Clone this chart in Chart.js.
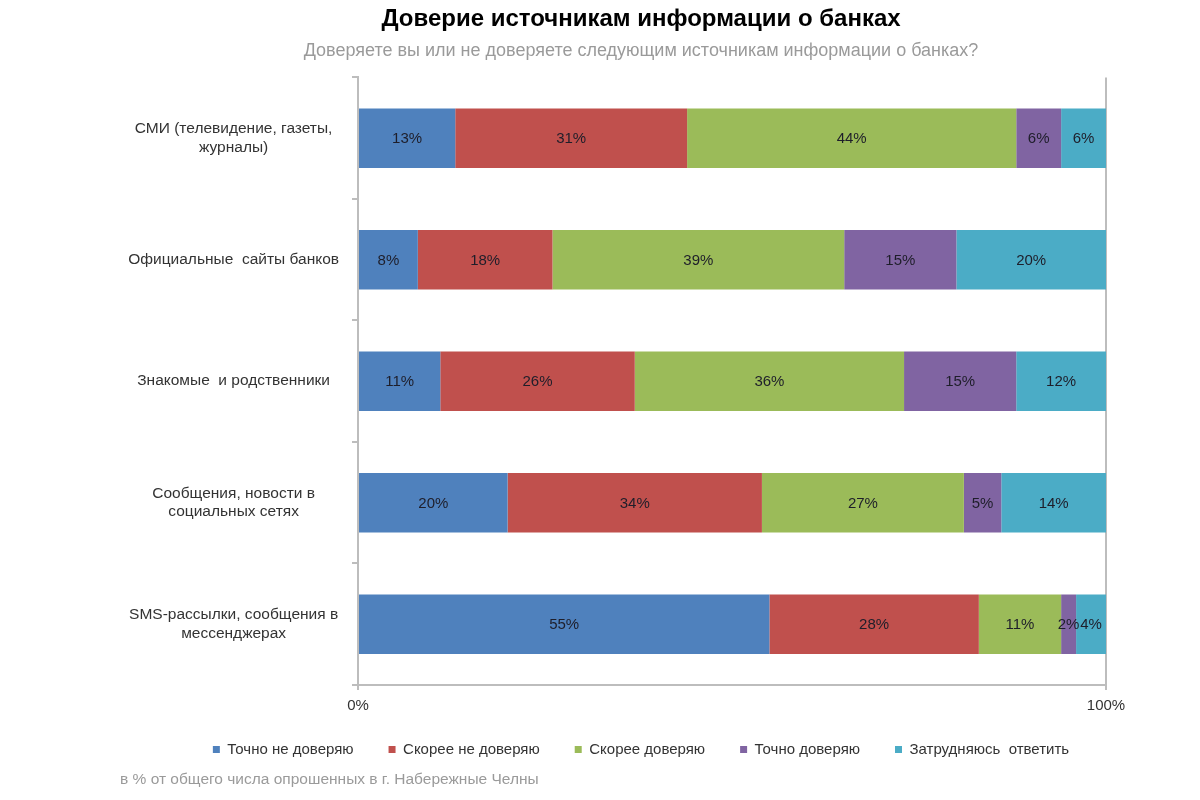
<!DOCTYPE html>
<html>
<head>
<meta charset="utf-8">
<script src="https://cdn.jsdelivr.net/npm/chart.js@4/dist/chart.umd.min.js"></script>
<style>
  html, body { margin: 0; padding: 0; background: #ffffff; }
  #wrap { position: relative; width: 1200px; height: 800px; }
  #note { position: absolute; left: 120px; top: 770px; font: 15.5px "Liberation Sans", Arial, sans-serif; color: #9a9a9a; white-space: nowrap; }
</style>
</head>
<body>
<div id="wrap">
  <canvas id="c" width="1200" height="800"></canvas>
  <div id="note">в % от общего числа опрошенных в г. Набережные Челны</div>
</div>
<script>
const titleText = "Доверие источникам информации о банках";
const subtitleText = "Доверяете вы или не доверяете следующим источникам информации о банках?";
const categories = [
  ["СМИ (телевидение, газеты,", "журналы)"],
  "Официальные  сайты банков",
  "Знакомые  и родственники",
  ["Сообщения, новости в", "социальных сетях"],
  ["SMS-рассылки, сообщения в", "мессенджерах"]
];
const seriesNames = ["Точно не доверяю", "Скорее не доверяю", "Скорее доверяю", "Точно доверяю", "Затрудняюсь  ответить"];
const definitelyNot = [13, 8, 11, 20, 55];
const ratherNot = [31, 18, 26, 34, 28];
const ratherYes = [44, 39, 36, 27, 11];
const definitelyYes = [6, 15, 15, 5, 2];
const hardToSay = [6, 20, 12, 14, 4];
const xTickValues = [0, 100];
const colors = ["#4F81BD", "#C0504D", "#9BBB59", "#8064A2", "#4BACC6"];

const seriesValues = [definitelyNot, ratherNot, ratherYes, definitelyYes, hardToSay];
const FONT = '"Liberation Sans", Arial, sans-serif';

const barLabels = {
  id: 'barLabels',
  afterDatasetsDraw(chart) {
    const ctx = chart.ctx;
    ctx.save();
    ctx.font = '15px ' + FONT;
    ctx.fillStyle = '#1e1e2a';
    ctx.textAlign = 'center';
    ctx.textBaseline = 'middle';
    chart.data.datasets.forEach((ds, di) => {
      const meta = chart.getDatasetMeta(di);
      meta.data.forEach((bar, i) => {
        const v = ds.data[i];
        const cx = (bar.x + bar.base) / 2;
        ctx.fillText(v + '%', cx, bar.y + 1);
      });
    });
    ctx.restore();
  }
};

// let the axis labels extend beyond the axis boxes (avoid label clipping)
const unclipLabels = {
  id: 'unclipLabels',
  afterLayout(chart) {
    chart.scales.y.left = 0;
    chart.scales.x.bottom = chart.height;
  }
};

new Chart(document.getElementById('c'), {
  type: 'bar',
  data: {
    labels: categories,
    datasets: seriesNames.map((n, k) => ({
      label: n,
      data: seriesValues[k],
      backgroundColor: colors[k],
      borderWidth: 0,
      categoryPercentage: 1,
      barPercentage: 0.49
    }))
  },
  options: {
    indexAxis: 'y',
    responsive: false,
    animation: false,
    layout: { padding: { left: 176, right: 94, top: 0, bottom: 33 } },
    scales: {
      x: {
        stacked: true,
        min: 0, max: 100,
        afterBuildTicks(scale) { scale.ticks = xTickValues.map(v => ({ value: v })); },
        ticks: { callback: v => v + '%', font: { size: 15, family: FONT }, color: '#333', padding: 7, maxRotation: 0 },
        grid: { color: '#bdbdbd', lineWidth: 2, tickLength: 5 },
        border: { color: '#bdbdbd', width: 2 },
        afterFit(scale) { scale.height = 22; }
      },
      y: {
        stacked: true,
        ticks: { font: { size: 15.5, family: FONT }, color: '#333', padding: 13, crossAlign: 'center' },
        grid: { drawOnChartArea: false, color: '#bdbdbd', lineWidth: 2, tickLength: 6, offset: true },
        border: { color: '#bdbdbd', width: 2 },
        afterFit(scale) { scale.width = 182; }
      }
    },
    plugins: {
      title: {
        display: true, text: titleText, color: '#000',
        font: { size: 24, weight: 'bold', family: FONT },
        padding: { top: 5, bottom: 4 }
      },
      subtitle: {
        display: true, text: subtitleText, color: '#9a9a9a',
        font: { size: 18, family: FONT },
        padding: { top: 2, bottom: 16 }
      },
      legend: {
        position: 'bottom',
        labels: { boxWidth: 7, boxHeight: 7, padding: 35, color: '#333', font: { size: 15, family: FONT } }
      },
      tooltip: { enabled: false }
    }
  },
  plugins: [barLabels, unclipLabels]
});
</script>
</body>
</html>
